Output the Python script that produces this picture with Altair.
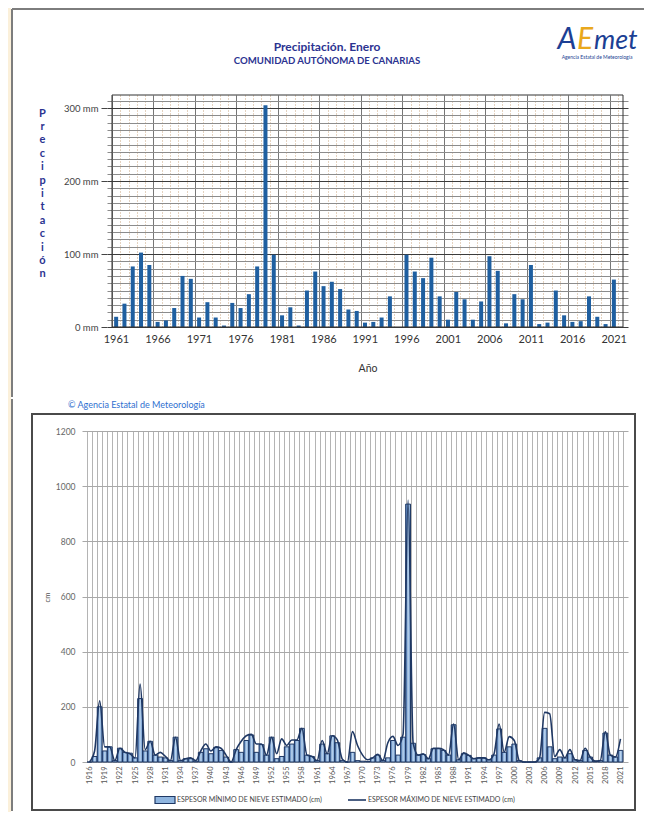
import altair as alt
import pandas as pd

# ---------------- data ----------------
PREC_YEARS = list(range(1961, 2022))
PREC_MM = [14, 32, 83, 102, 85, 7, 9, 26, 70, 66,
           13, 34, 13, 2, 33, 26, 45, 83, 304, 99,
           16, 27, 2, 50, 76, 56, 62, 52, 24, 22,
           6, 7, 13, 42, 0, 99, 76, 67, 95, 42,
           10, 48, 38, 10, 35, 97, 77, 5, 45, 38,
           85, 4, 6, 50, 16, 7, 8, 42, 14, 4,
           65]

SNOW_YEARS = list(range(1916, 2022))
SNOW_MIN = [0, 20, 200, 40, 55, 5, 50, 35, 32, 15,        # 1916-1925
            230, 40, 75, 25, 18, 15, 5, 90, 5, 12,        # 1926-1935
            12, 3, 35, 48, 30, 52, 42, 18, 0, 45,         # 1936-1945
            35, 78, 98, 35, 63, 25, 90, 12, 20, 55,       # 1946-1955
            65, 78, 122, 25, 20, 5, 65, 30, 95, 70,       # 1956-1965
            5, 0, 35, 5, 3, 2, 15, 25, 5, 15,             # 1966-1975
            78, 25, 90, 935, 68, 25, 27, 12, 48, 48,      # 1976-1985
            42, 25, 135, 8, 30, 24, 12, 15, 15, 8,        # 1986-1995
            25, 120, 35, 55, 65, 5, 0, 0, 0, 15,          # 1996-2005
            122, 55, 12, 18, 15, 30, 8, 5, 42, 18,        # 2006-2015
            3, 5, 105, 25, 18, 42]                        # 2016-2021
SNOW_MAX = [0, 40, 222, 55, 55, 5, 50, 35, 30, 15,
            283, 45, 75, 25, 35, 20, 5, 90, 5, 12,
            15, 5, 40, 65, 40, 55, 50, 25, 0, 45,
            75, 95, 100, 65, 65, 25, 90, 30, 84, 60,
            80, 80, 122, 25, 20, 5, 78, 30, 95, 80,
            10, 0, 110, 60, 25, 8, 15, 28, 5, 70,
            93, 60, 100, 950, 68, 25, 30, 12, 50, 50,
            45, 25, 138, 8, 33, 24, 12, 15, 15, 8,
            30, 138, 36, 92, 78, 5, 0, 0, 0, 15,
            180, 175, 20, 45, 15, 45, 8, 5, 50, 18,
            3, 5, 110, 25, 18, 84]

TITLE_1 = "Precipitación. Enero"
TITLE_2 = "COMUNIDAD AUTÓNOMA DE CANARIAS"
Y_TITLE_TOP = "Precipitación"
X_TITLE_TOP = "Año"
Y_TITLE_BOTTOM = "cm"
SERIES_MIN = "ESPESOR MÍNIMO DE NIEVE ESTIMADO (cm)"
SERIES_MAX = "ESPESOR MÁXIMO DE NIEVE ESTIMADO (cm)"
COPYRIGHT = "© Agencia Estatal de Meteorología"
LOGO_SUB = "Agencia Estatal de Meteorología"

FONT = "Lato"
NAVY = "#2b3391"
LOGO_BLUE = "#1c3f94"
PAGE_LINE = "#7d7d7d"
CREAM = "#fbf0da"
DARK_NAVY = "#1f3864"
BAR_GRADIENT = alt.LinearGradient(
    gradient="linear", x1=0, x2=1, y1=0, y2=0,
    stops=[alt.GradientStop(color="#3566a8", offset=0),
           alt.GradientStop(color="#bcd5ef", offset=0.5),
           alt.GradientStop(color="#6b97cc", offset=1)])
LEGEND_FILL = "#8fb5df"

top_df = pd.DataFrame({"year": PREC_YEARS, "mm": PREC_MM})
snow_df = pd.DataFrame({"year": SNOW_YEARS, "min": SNOW_MIN, "max": SNOW_MAX})
one = pd.DataFrame({"a": [0]})


def text_mark(txt, x, y, **kw):
    return alt.Chart(pd.DataFrame({"t": [txt]})).mark_text(**kw).encode(
        text="t:N", x=alt.value(x), y=alt.value(y))


def deco_rule(color=PAGE_LINE, width=2, **enc):
    return alt.Chart(one).mark_rule(color=color, strokeWidth=width).encode(**enc)


def deco_rect(color, **enc):
    return alt.Chart(one).mark_rect(color=color).encode(**enc)


# ---------------- top chart ----------------
TOP_X_VALUES = [y - 0.5 for y in range(1961, 2023)]
TOP_Y_VALUES = list(range(0, 320, 10))
is5 = "(datum.value + 0.5 - 1961) % 5 === 0"
x_top = alt.X(
    "year:Q",
    scale=alt.Scale(domain=[1960.5, 2022.1], range=[25, 546], nice=False, zero=False),
    axis=alt.Axis(
        values=TOP_X_VALUES, tickCount=len(TOP_X_VALUES),
        labelExpr=f"{is5} ? format(datum.value + 0.5, 'd') : ''",
        labelOffset=4, labelFlush=False, labelOverlap=False, labelPadding=6,
        labelFont=FONT, labelFontSize=11, labelColor="#333333",
        ticks=False, domain=False,
        gridColor={"condition": {"test": is5, "value": "#777777"}, "value": "#c9a57e"},
        gridDash={"condition": {"test": is5, "value": []}, "value": [1, 2]},
        title=X_TITLE_TOP, titleFont=FONT, titleFontSize=10.5, titleFontWeight="normal",
        titleColor="#333333", titleY=41, titleBaseline="middle",
    ),
)
is100 = "datum.value % 100 === 0"
y_top = alt.Y(
    "mm:Q",
    scale=alt.Scale(domain=[0, 318], nice=False),
    axis=alt.Axis(
        values=TOP_Y_VALUES, tickCount=len(TOP_Y_VALUES), offset=-25,
        labelExpr=f"{is100} ? datum.value + ' mm' : ''",
        labelOverlap=False, labelFont=FONT, labelFontSize=9.5, labelColor="#444444",
        labelPadding=3, tickSize=6,
        tickColor={"condition": {"test": is100, "value": "#444444"}, "value": "transparent"},
        domain=False,
        gridColor={"condition": {"test": is100, "value": "#3c3c3c"}, "value": "#8c8c8c"},
        title=list(Y_TITLE_TOP), titleAngle=0, titleX=-65, titleY=12,
        titleAlign="center", titleBaseline="top",
        titleFont=FONT, titleFontSize=11, titleFontWeight="bold", titleColor=NAVY,
        titleLineHeight=13.4,
    ),
)

bars_top = alt.Chart(top_df).mark_bar(size=4, color="#1f5fa0").encode(x=x_top, y=y_top)
border_top = alt.Chart(one).mark_rect(fillOpacity=0, stroke="#333333", strokeWidth=1).encode(
    x=alt.datum(1960.5), x2=alt.datum(2022.1), y=alt.datum(0), y2=alt.datum(318))

top = alt.layer(
    deco_rect(CREAM, x=alt.value(-74), x2=alt.value(-71), y=alt.value(-87), y2=alt.value(303)),
    deco_rule(x=alt.value(-70), y=alt.value(-86), y2=alt.value(302)),
    deco_rule(y=alt.value(-86), x=alt.value(-70), x2=alt.value(562)),
    text_mark(TITLE_1, 245, -48, font=FONT, fontSize=12, fontWeight="bold", color=NAVY),
    text_mark(TITLE_2, 245, -34, font=FONT, fontSize=9.6, fontWeight="bold", color=NAVY),
    text_mark("A", 485, -46, font=FONT, fontSize=30, fontStyle="italic", color=LOGO_BLUE, baseline="alphabetic"),
    text_mark("E", 503, -46, font=FONT, fontSize=30, fontStyle="italic", color="#e9a81c", baseline="alphabetic"),
    text_mark("met", 512, -46, font=FONT, fontSize=27, fontStyle="italic", color=LOGO_BLUE, align="left", baseline="alphabetic"),
    text_mark(LOGO_SUB, 515, -38, font=FONT, fontSize=5, color=LOGO_BLUE),
    bars_top,
    border_top,
).properties(width=546, height=232)

# ---------------- bottom chart ----------------
BOT_X_VALUES = [y - 0.5 for y in range(1916, 2023)]
BOT_Y_VALUES = list(range(0, 1201, 200))
is3 = "(datum.value + 0.5 - 1916) % 3 === 0"
x_bot = alt.X(
    "year:Q",
    scale=alt.Scale(domain=[1915.5, 2021.5], nice=False, zero=False),
    axis=alt.Axis(
        values=BOT_X_VALUES, tickCount=len(BOT_X_VALUES),
        labelExpr=f"{is3} ? format(datum.value + 0.5, 'd') : ''",
        labelAngle=270, labelOffset=2.6, labelFlush=False, labelOverlap=False, labelPadding=4,
        labelFont=FONT, labelFontSize=7.5, labelColor="#555555",
        ticks=False, domain=False, gridColor="#b4b4b4", title=None,
    ),
)
y_axis_bot = alt.Axis(
    values=BOT_Y_VALUES, tickCount=len(BOT_Y_VALUES), format="d",
    labelFont=FONT, labelFontSize=8.5, labelColor="#666666",
    labelPadding=7, ticks=False, domain=False, gridColor="#a8a8a8",
    titleX=-35, titleY=166, titleAngle=270, titleAlign="center", titleBaseline="middle",
    titleFont=FONT, titleFontSize=7.5, titleFontWeight="normal", titleColor="#555555",
)
y_scale_bot = alt.Scale(domain=[0, 1200], nice=False)

bars_bot = alt.Chart(snow_df).mark_bar(size=4.8, color=BAR_GRADIENT, stroke=DARK_NAVY, strokeWidth=1).encode(
    x=x_bot,
    y=alt.Y("min:Q", scale=y_scale_bot, axis=y_axis_bot, title=Y_TITLE_BOTTOM),
)
line_bot = alt.Chart(snow_df).mark_line(interpolate="monotone", strokeWidth=1.6, color=DARK_NAVY).encode(
    x=x_bot,
    y=alt.Y("max:Q", scale=y_scale_bot, axis=y_axis_bot, title=Y_TITLE_BOTTOM),
)

# legend (drawn below the x labels, inside the frame)
LEG_Y = 369
legend_parts = [
    alt.Chart(one).mark_rect(color=LEGEND_FILL, stroke=DARK_NAVY, strokeWidth=1.2).encode(
        x=alt.value(73), x2=alt.value(93), y=alt.value(LEG_Y - 3.5), y2=alt.value(LEG_Y + 3.5)),
    text_mark(SERIES_MIN, 95, LEG_Y, font=FONT, fontSize=7, color="#444444", align="left"),
    deco_rule(color=DARK_NAVY, width=1.6, x=alt.value(266), x2=alt.value(284), y=alt.value(LEG_Y)),
    text_mark(SERIES_MAX, 286, LEG_Y, font=FONT, fontSize=7, color="#444444", align="left"),
]

bottom = alt.layer(
    deco_rect(CREAM, x=alt.value(-74), x2=alt.value(-71), y=alt.value(-33), y2=alt.value(381)),
    deco_rule(x=alt.value(-70), y=alt.value(-32), y2=alt.value(380)),
    alt.Chart(one).mark_rect(fillOpacity=0, stroke="#4a4a4a", strokeWidth=2).encode(
        x=alt.value(-50), x2=alt.value(553), y=alt.value(-17), y2=alt.value(379)),
    text_mark(COPYRIGHT, -14, -26, font=FONT, fontSize=9, color="#2f6fd0", align="left"),
    bars_bot,
    line_bot,
    *legend_parts,
).properties(width=546, height=331)

chart = alt.vconcat(top, bottom, spacing=0, padding=0, background="white").configure_view(strokeWidth=0)

chart.save("out.html", embed_options={"renderer": "svg", "actions": False})
